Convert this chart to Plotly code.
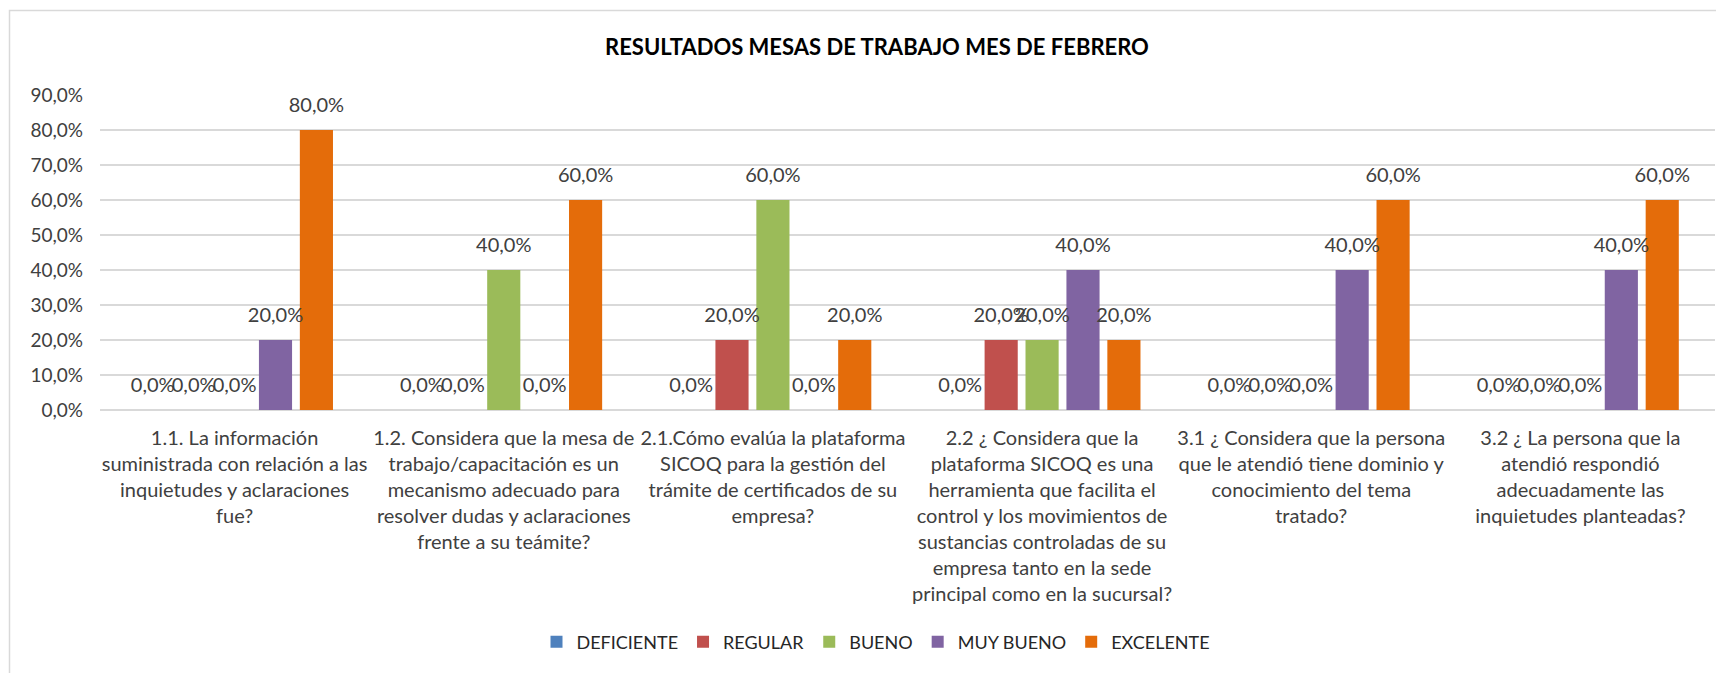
import plotly.graph_objects as go

categories = [
    "1.1. La información<br>suministrada con relación a las<br>inquietudes y aclaraciones<br>fue?",
    "1.2. Considera que la mesa de<br>trabajo/capacitación es un<br>mecanismo adecuado para<br>resolver dudas y aclaraciones<br>frente a su teámite?",
    "2.1.Cómo evalúa la plataforma<br>SICOQ para la gestión del<br>trámite de certificados de su<br>empresa?",
    "2.2 ¿ Considera que la<br>plataforma SICOQ es una<br>herramienta que facilita el<br>control y los movimientos de<br>sustancias controladas de su<br>empresa tanto en la sede<br>principal como en la sucursal?",
    "3.1 ¿ Considera que la persona<br>que le atendió tiene dominio y<br>conocimiento del tema<br>tratado?",
    "3.2 ¿ La persona que la<br>atendió respondió<br>adecuadamente las<br>inquietudes planteadas?",
]

deficiente = [0.0, 0.0, 0.0, 0.0, 0.0, 0.0]
regular = [0.0, 0.0, 0.2, 0.2, 0.0, 0.0]
bueno = [0.0, 0.4, 0.6, 0.2, 0.0, 0.0]
muy_bueno = [0.2, 0.0, 0.0, 0.4, 0.4, 0.4]
excelente = [0.8, 0.6, 0.2, 0.2, 0.6, 0.6]

series = [
    ("DEFICIENTE", deficiente, "#4F81BD"),
    ("REGULAR", regular, "#C0504D"),
    ("BUENO", bueno, "#9BBB59"),
    ("MUY BUENO", muy_bueno, "#8064A2"),
    ("EXCELENTE", excelente, "#E46C0A"),
]

FONT = "Lato, 'Open Sans', sans-serif"
TXT = "#404040"
BARGAP = 0.24

fig = go.Figure()
for name, vals, color in series:
    fig.add_trace(go.Bar(
        x=categories, y=vals, name=name, offsetgroup=name,
        marker=dict(color=color, line=dict(width=0)),
        hovertemplate="%{y:.1%}<extra>" + name + "</extra>",
    ))
for name, vals, color in series:
    fig.add_trace(go.Scatter(
        x=categories, y=vals, name=name, offsetgroup=name,
        mode="markers+text", showlegend=False,
        marker=dict(size=20, opacity=0),
        texttemplate="%{y:.1%}", textposition="top center",
        textfont=dict(size=20, color=TXT, family=FONT),
        cliponaxis=False, hoverinfo="skip",
    ))

W, H = 1716, 665
ml, mr, mt, mb = 92, 9, 87, 263
pw = W - ml - mr
ph = H - mt - mb

def px_x(px):
    return (px - ml) / pw

def px_y(py):
    return (H - mb - py) / ph

fig.update_layout(
    width=W, height=H,
    margin=dict(l=ml, r=mr, t=mt, b=mb, autoexpand=False),
    paper_bgcolor="white", plot_bgcolor="white",
    separators=",.",
    barmode="group", bargap=BARGAP, bargroupgap=0.19,
    scattermode="group", scattergap=BARGAP,
    font=dict(family=FONT, color=TXT, size=20),
    title=dict(
        text="<b>RESULTADOS MESAS DE TRABAJO MES DE FEBRERO</b>",
        x=869 / W, xanchor="center", xref="container",
        y=1 - 39 / H, yanchor="middle", yref="container",
        font=dict(size=22, color="#000000", family=FONT),
    ),
    yaxis=dict(
        range=[0, 0.9], dtick=0.1, tickformat=".1%",
        showgrid=True, gridcolor="#D9D9D9", gridwidth=1.5,
        zeroline=True, zerolinecolor="#D9D9D9", zerolinewidth=1.5,
        showline=False, ticks="", ticklen=0, ticklabelstandoff=16,
        tickfont=dict(size=19, color=TXT, family=FONT),
        fixedrange=True,
    ),
    xaxis=dict(
        showline=False, ticks="", showgrid=False, ticklabelstandoff=14,
        tickfont=dict(size=20, color=TXT, family=FONT),
        tickangle=0, automargin=False,
    ),
    legend=dict(
        orientation="h", x=px_x(868), xanchor="center",
        y=px_y(634), yanchor="middle",
        font=dict(size=18, color="#262626", family=FONT),
        traceorder="normal",
    ),
    shapes=[dict(
        type="rect", xref="paper", yref="paper",
        x0=px_x(1.5), x1=px_x(1800), y0=px_y(2.5), y1=px_y(720),
        line=dict(color="#D9D9D9", width=1.5), fillcolor="rgba(0,0,0,0)",
        layer="below",
    )],
)

fig.write_html("out.html")
